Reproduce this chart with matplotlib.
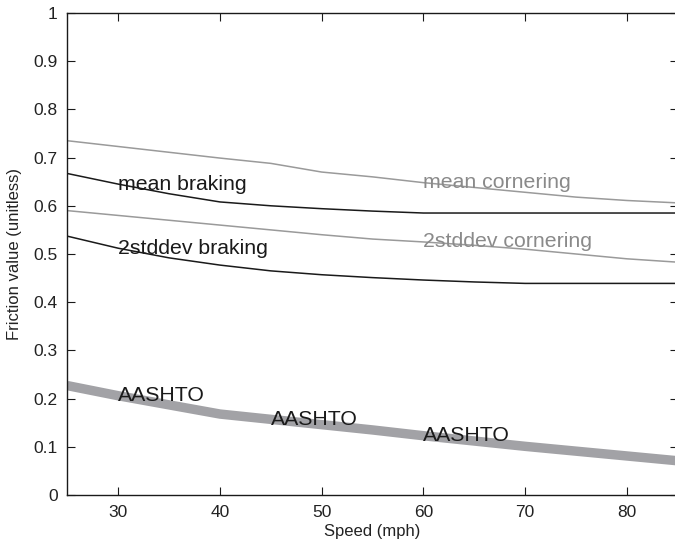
import matplotlib
matplotlib.use("Agg")
import matplotlib.pyplot as plt
import numpy as np

plt.rcParams['font.family'] = ['Liberation Sans', 'DejaVu Sans']

# Speed grid (mph)
speed = [25, 30, 35, 40, 45, 50, 55, 60, 65, 70, 75, 80, 85]

# Friction values
mean_cornering = [0.735, 0.723, 0.711, 0.699, 0.688, 0.670, 0.660, 0.648, 0.638, 0.628, 0.618, 0.611, 0.606]
mean_braking = [0.667, 0.645, 0.625, 0.608, 0.600, 0.594, 0.589, 0.585, 0.585, 0.585, 0.585, 0.585, 0.585]
sd2_cornering = [0.590, 0.580, 0.570, 0.560, 0.550, 0.540, 0.531, 0.525, 0.518, 0.510, 0.500, 0.490, 0.483]
sd2_braking = [0.537, 0.512, 0.492, 0.477, 0.465, 0.457, 0.451, 0.446, 0.442, 0.439, 0.439, 0.439, 0.439]
aashto = [0.227, 0.206, 0.187, 0.168, 0.157, 0.146, 0.135, 0.123, 0.112, 0.101, 0.091, 0.081, 0.071]

xticks = [30, 40, 50, 60, 70, 80]
yticks = [0, 0.1, 0.2, 0.3, 0.4, 0.5, 0.6, 0.7, 0.8, 0.9, 1]
ytick_labels = ['0', '0.1', '0.2', '0.3', '0.4', '0.5', '0.6', '0.7', '0.8', '0.9', '1']

fig = plt.figure(figsize=(6.75, 5.45), dpi=100)
ax = fig.add_axes([0.0997, 0.0917, 0.9045, 0.8845])

grey_line = '#9a9a9a'
grey_text = '#8a8a8a'
dark = '#1a1a1a'

ax.plot(speed, aashto, color='#a2a2a6', lw=6.8, solid_capstyle='butt', zorder=1)
ax.plot(speed, mean_cornering, color=grey_line, lw=1.1, zorder=2)
ax.plot(speed, sd2_cornering, color=grey_line, lw=1.1, zorder=2)
ax.plot(speed, mean_braking, color=dark, lw=1.1, zorder=2)
ax.plot(speed, sd2_braking, color=dark, lw=1.1, zorder=2)

fs = 15.3


def label_at(series, x, text, color):
    y = series[speed.index(x)]
    ax.text(x, y, text, color=color, fontsize=fs, ha='left', va='center', zorder=3)


label_at(mean_braking, 30, 'mean braking', dark)
label_at(sd2_braking, 30, '2stddev braking', dark)
label_at(mean_cornering, 60, 'mean cornering', grey_text)
label_at(sd2_cornering, 60, '2stddev cornering', grey_text)
label_at(aashto, 30, 'AASHTO', dark)
label_at(aashto, 45, 'AASHTO', dark)
label_at(aashto, 60, 'AASHTO', dark)

ax.set_xlim(25, 85)
ax.set_ylim(0, 1)
ax.set_xticks(xticks)
ax.set_yticks(yticks)
ax.set_yticklabels(ytick_labels)
ax.tick_params(direction='in', length=6, width=0.8, color=dark, labelsize=12.5,
               labelcolor='#222222', top=True, right=True, pad=7)
for s in ax.spines.values():
    s.set_linewidth(1.0)
    s.set_color(dark)

ax.set_xlabel('Speed (mph)', fontsize=12, color='#222222', labelpad=3)
ax.set_ylabel('Friction value (unitless)', fontsize=12, color='#222222', labelpad=8)

fig.savefig('out.png', dpi=100)
